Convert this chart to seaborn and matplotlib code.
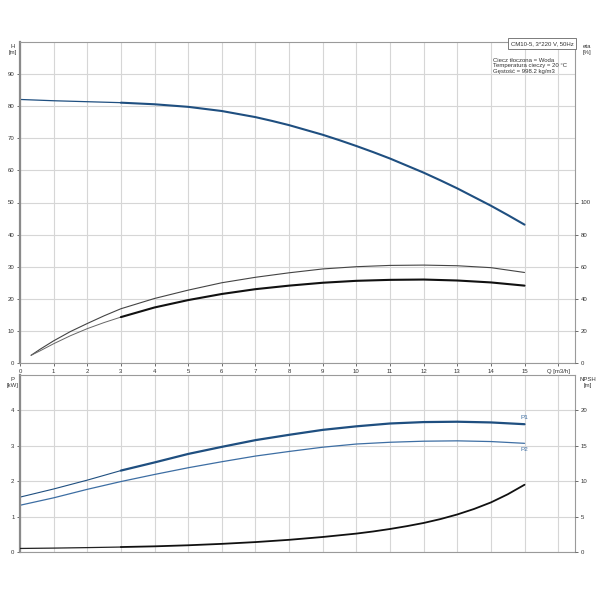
import numpy as np
import pandas as pd
import seaborn as sns
import matplotlib.pyplot as plt

# pump curve values
q_h = [0, 1, 2, 3, 4, 5, 6, 7, 7.5, 8, 8.5, 9, 9.5, 10, 10.5, 11, 11.5, 12, 12.5, 13, 13.5, 14, 14.5, 15]
head = [82.1, 81.7, 81.4, 81.1, 80.6, 79.8, 78.5, 76.6, 75.4, 74.1, 72.6, 71.1, 69.4, 67.6, 65.7, 63.7,
        61.5, 59.3, 56.9, 54.4, 51.7, 49.0, 46.1, 43.1]

q_eta = [0.33, 0.6, 1, 1.5, 2, 2.5, 3, 4, 5, 6, 7, 8, 9, 10, 11, 12, 13, 14, 15]
eta_pump = [4.8, 8.6, 13.8, 19.6, 24.6, 29.4, 33.8, 40.2, 45.4, 50.0, 53.4, 56.2, 58.6, 60.0, 60.8, 61.0,
            60.6, 59.4, 56.4]
eta_total = [4.8, 7.6, 12.0, 17.0, 21.4, 25.2, 28.6, 34.6, 39.2, 43.0, 46.0, 48.2, 50.0, 51.2, 51.8, 52.0,
             51.4, 50.2, 48.2]

q_p = [0, 1, 2, 3, 4, 5, 6, 7, 8, 9, 10, 11, 12, 13, 14, 15]
p1 = [1.55, 1.78, 2.03, 2.30, 2.53, 2.77, 2.97, 3.16, 3.31, 3.45, 3.55, 3.63, 3.67, 3.68, 3.66, 3.61]
p2 = [1.32, 1.53, 1.77, 1.99, 2.19, 2.38, 2.55, 2.71, 2.84, 2.96, 3.05, 3.10, 3.13, 3.14, 3.12, 3.07]

q_npsh = [0, 1, 2, 3, 4, 5, 6, 7, 8, 9, 10, 10.5, 11, 11.5, 12, 12.5, 13, 13.5, 14, 14.5, 15]
npsh = [0.5, 0.55, 0.62, 0.7, 0.8, 0.95, 1.15, 1.4, 1.72, 2.12, 2.6, 2.9, 3.25, 3.65, 4.1, 4.65, 5.3, 6.08,
        7.0, 8.15, 9.5]

x_labels = [str(i) for i in range(16)] + ["Q [m3/h]"]

sns.set_theme(style="white")
plt.rcParams["font.family"] = ["Liberation Sans", "DejaVu Sans"]
plt.rcParams["font.size"] = 4.3

BLUE = "#1f4f80"
BLUE2 = "#3d6ea3"
GRID = "#d6d6d6"
SPINE = "#9a9a9a"

dh = pd.DataFrame({"q": q_h, "head": head})
de = pd.DataFrame({"q": q_eta, "eta_pump": eta_pump, "eta_total": eta_total})
dp = pd.DataFrame({"q": q_p, "p1": p1, "p2": p2})
dn = pd.DataFrame({"q": q_npsh, "npsh": npsh})

fig = plt.figure(figsize=(6, 6), dpi=100)
ax1 = fig.add_axes([0.0333, 0.395, 0.925, 0.535])
ax2 = fig.add_axes([0.0333, 0.08, 0.925, 0.295])


def style_axes(ax):
    ax.set_xlim(0, 16.5)
    ax.set_xticks(range(17))
    ax.grid(True, color=GRID, linewidth=0.8)
    ax.set_axisbelow(True)
    for s in ax.spines.values():
        s.set_color(SPINE)
        s.set_linewidth(0.8)
    ax.spines["left"].set_linewidth(1.6)
    ax.spines["left"].set_color("#8a8a8a")
    ax.tick_params(length=2, width=0.6, color="#555555", pad=2, labelsize=4.3, labelcolor="#333333")
    ax.set_xlabel("")
    ax.set_ylabel("")


def style_right(ax):
    ax.set_xlabel("")
    ax.set_ylabel("")
    for s in ax.spines.values():
        s.set_visible(False)
    ax.tick_params(axis="y", right=True, length=2, width=0.6, color="#555555", pad=2,
                   labelsize=4.3, labelcolor="#333333")


# top panel: head + efficiency (thin outside the working range, thick inside)
sns.lineplot(data=dh[dh.q <= 3], x="q", y="head", ax=ax1, color=BLUE, linewidth=0.9)
sns.lineplot(data=dh[dh.q >= 3], x="q", y="head", ax=ax1, color=BLUE, linewidth=1.5)
style_axes(ax1)
ax1.set_ylim(0, 100)
ax1.set_yticks(range(0, 100, 10))
ax1.set_xticklabels(x_labels)
ax1.tick_params(axis="x", bottom=True)
ax1.tick_params(axis="y", left=True)

ax1r = ax1.twinx()
sns.lineplot(data=de, x="q", y="eta_pump", ax=ax1r, color="#444444", linewidth=0.8)
sns.lineplot(data=de[de.q <= 3], x="q", y="eta_total", ax=ax1r, color="#666666", linewidth=0.7)
sns.lineplot(data=de[de.q >= 3], x="q", y="eta_total", ax=ax1r, color="#111111", linewidth=1.5)
ax1r.set_ylim(0, 200)
ax1r.set_yticks(range(0, 101, 20))
style_right(ax1r)

# bottom panel: power + NPSH
sns.lineplot(data=dp[dp.q <= 3], x="q", y="p1", ax=ax2, color=BLUE, linewidth=0.8)
sns.lineplot(data=dp[dp.q >= 3], x="q", y="p1", ax=ax2, color=BLUE, linewidth=1.6)
sns.lineplot(data=dp, x="q", y="p2", ax=ax2, color=BLUE2, linewidth=0.9)
style_axes(ax2)
ax2.set_ylim(0, 5)
ax2.set_yticks(range(0, 5))
ax2.set_xticklabels([])
ax2.tick_params(axis="x", bottom=False)
ax2.tick_params(axis="y", left=True)
ax2.text(15.0, 3.72, "P1", color=BLUE2, fontsize=4.6, ha="center", va="bottom")
ax2.text(15.0, 2.97, "P2", color=BLUE2, fontsize=4.6, ha="center", va="top")

ax2r = ax2.twinx()
sns.lineplot(data=dn[dn.q <= 3], x="q", y="npsh", ax=ax2r, color="#222222", linewidth=0.9)
sns.lineplot(data=dn[dn.q >= 3], x="q", y="npsh", ax=ax2r, color="#111111", linewidth=1.3)
ax2r.set_ylim(0, 25)
ax2r.set_yticks(range(0, 21, 5))
style_right(ax2r)

# axis captions
fig.text(0.021, 0.918, "H\n[m]", ha="center", va="center", fontsize=4.3, color="#333333", linespacing=1.3)
fig.text(0.978, 0.918, "eta\n[%]", ha="center", va="center", fontsize=4.3, color="#333333", linespacing=1.3)
fig.text(0.021, 0.362, "P\n[kW]", ha="center", va="center", fontsize=4.3, color="#333333", linespacing=1.3)
fig.text(0.98, 0.362, "NPSH\n[m]", ha="center", va="center", fontsize=4.3, color="#333333", linespacing=1.3)

# info block
ax1.text(0.997, 0.995, "CM10-5, 3*220 V, 50Hz", transform=ax1.transAxes, ha="right", va="center",
         fontsize=4.3, color="#333333",
         bbox=dict(boxstyle="square,pad=0.45", facecolor="white", edgecolor="#666666", linewidth=0.6))
ax1.text(0.852, 0.95, "Ciecz tłoczona = Woda\nTemperatura cieczy = 20 °C\nGęstość = 998.2 kg/m3",
         transform=ax1.transAxes, ha="left", va="top", fontsize=4.3, color="#333333", linespacing=1.1)

fig.savefig("out.png", dpi=100, facecolor="white")
